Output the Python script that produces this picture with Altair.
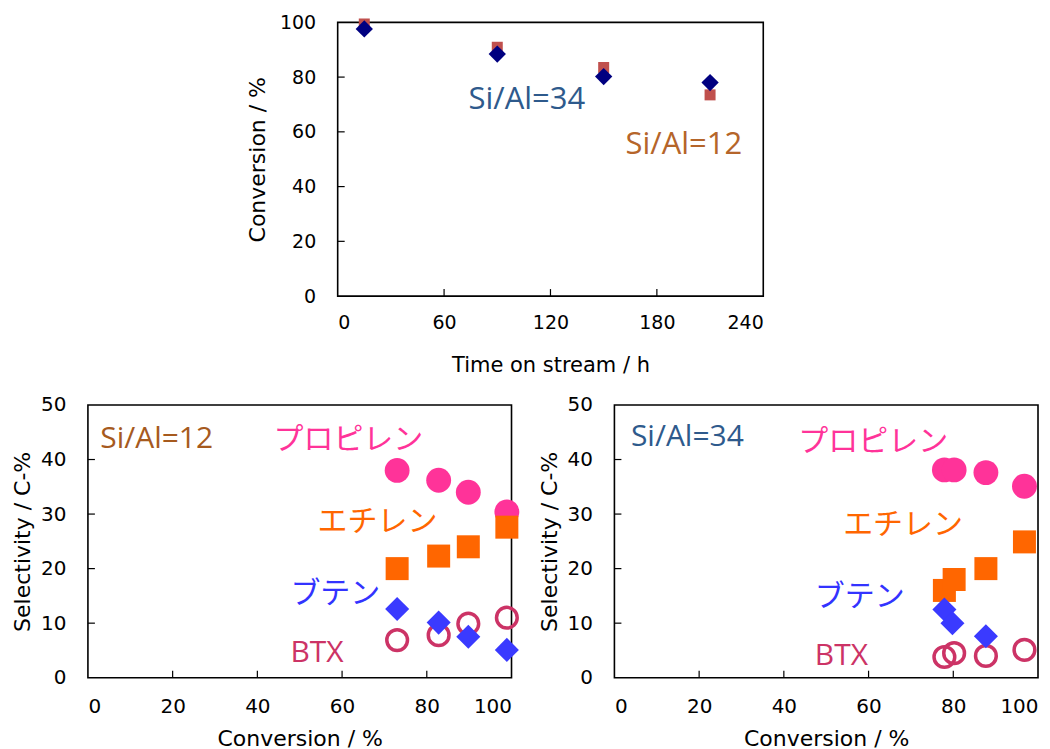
import altair as alt
import pandas as pd

# ---------------- data ----------------
# top panel: conversion vs time on stream
top_time = [15, 90, 150, 210]
conv_si34 = [97.6, 88.4, 80.2, 78.0]
conv_si12 = [99.4, 90.9, 83.5, 73.5]

# bottom-left panel: Si/Al=12
conv12 = [73.0, 82.8, 89.8, 98.9]
prop12 = [38.0, 36.2, 34.0, 30.4]
eth12 = [20.0, 22.3, 24.0, 27.6]
but12 = [12.6, 10.1, 7.5, 5.1]
btx12 = [6.9, 7.8, 9.9, 11.0]

# bottom-right panel: Si/Al=34
conv34 = [77.9, 80.2, 87.7, 96.8]
prop34 = [38.1, 38.1, 37.6, 35.1]
eth34 = [16.0, 18.0, 20.0, 24.9]
conv34_but = [77.9, 79.8, 87.7]
but34 = [12.5, 10.0, 7.6]
btx34 = [3.8, 4.5, 4.0, 5.1]

# tick values
top_xticks = [0, 60, 120, 180, 240]
top_yticks = [0, 20, 40, 60, 80, 100]
bot_xticks = [0, 20, 40, 60, 80, 100]
bot_yticks = [0, 10, 20, 30, 40, 50]

# annotation texts
top_labels = ["Si/Al=34", "Si/Al=12"]
top_label_x = [73.8, 162.3]
top_label_y = [68.2, 51.8]
top_label_col = ["#2E5A8C", "#B5652A"]

species = ["プロピレン", "エチレン", "ブテン"]
species_col = ["#FF3399", "#FF6600", "#3333FF"]
bl_sp_x = [43.8, 54.2, 47.8]
bl_sp_y = [43.5, 28.5, 15.4]
br_sp_x = [43.4, 54.0, 47.3]
br_sp_y = [43.3, 28.0, 14.8]

latin_l_text = ["Si/Al=12", "BTX"]
latin_l_col = ["#A65A1E", "#CC3366"]
latin_l_x = [2.9, 47.8]
latin_l_y = [42.1, 2.9]
latin_r_text = ["Si/Al=34", "BTX"]
latin_r_col = ["#2E5A8C", "#CC3366"]
latin_r_x = [3.9, 47.3]
latin_r_y = [42.4, 2.4]

# ---------------- style ----------------
AX_FONT = "DejaVu Sans"
JP_FONT = "Noto Sans CJK JP"
LAT_FONT = "Open Sans"
W, H = 424, 273
TW, TH = 426, 274
TICK = 7


def frame(w, h):
    return alt.Chart(pd.DataFrame({"a": [0]})).mark_rect(
        fill="transparent", stroke="black", strokeWidth=1.6
    ).encode(x=alt.value(0), x2=alt.value(w), y=alt.value(0), y2=alt.value(h))


def ticks(xs, ys, xsc, ysc, h):
    tx = alt.Chart(pd.DataFrame({"x": xs})).mark_rule(color="black", strokeWidth=1.2).encode(
        x=alt.X("x:Q", scale=xsc), y=alt.value(h), y2=alt.value(h - TICK)
    )
    ty = alt.Chart(pd.DataFrame({"y": ys})).mark_rule(color="black", strokeWidth=1.2).encode(
        y=alt.Y("y:Q", scale=ysc), x=alt.value(0), x2=alt.value(TICK)
    )
    return [tx, ty]


def txt(texts, xs, ys, cols, xsc, ysc, font, size, baseline):
    df = pd.DataFrame({"t": texts, "x": xs, "y": ys, "c": cols})
    return alt.Chart(df).mark_text(
        align="left", baseline=baseline, font=font, fontSize=size
    ).encode(
        x=alt.X("x:Q", scale=xsc),
        y=alt.Y("y:Q", scale=ysc),
        text="t:N",
        color=alt.Color("c:N", scale=None),
    )


def pts(xs, ys, xsc, ysc, shape, size, color, filled=True, sw=0):
    df = pd.DataFrame({"x": xs, "y": ys})
    if filled:
        m = alt.Chart(df).mark_point(shape=shape, size=size, filled=True, color=color, opacity=1)
    else:
        m = alt.Chart(df).mark_point(shape=shape, size=size, filled=False, color=color,
                                     strokeWidth=sw, opacity=1)
    return m.encode(x=alt.X("x:Q", scale=xsc), y=alt.Y("y:Q", scale=ysc))


# ---------------- top panel ----------------
txs = alt.Scale(domain=[0, 240], nice=False, zero=False)
tys = alt.Scale(domain=[0, 100], nice=False, zero=False)

top_axis_layer = alt.Chart(pd.DataFrame({"x": top_time, "y": conv_si12})).mark_point(
    shape="square", size=121, filled=True, color="#C0504D", opacity=1
).encode(
    x=alt.X("x:Q", scale=txs, axis=alt.Axis(values=top_xticks, title="Time on stream / h",
                                             labelPadding=17, titlePadding=22, labelFontSize=19,
                                             titleFontSize=21)),
    y=alt.Y("y:Q", scale=tys, axis=alt.Axis(values=top_yticks, title="Conversion / %",
                                             labelPadding=22, titlePadding=10, labelFontSize=19,
                                             titleFontSize=22)),
)

top = alt.layer(
    frame(TW, TH),
    top_axis_layer,
    *ticks(top_xticks[1:-1], top_yticks[1:-1], txs, tys, TH),
    pts(top_time, conv_si34, txs, tys, "diamond", 300, "#000080"),
    txt(top_labels, top_label_x, top_label_y, top_label_col, txs, tys, LAT_FONT, 31, "alphabetic"),
).properties(width=TW, height=TH)

spacer = alt.Chart(pd.DataFrame({"a": [0]})).mark_point(opacity=0).encode(
    x=alt.value(0), y=alt.value(0)
).properties(width=158, height=10)


# ---------------- bottom panels ----------------
def bottom(conv, prop, eth, conv_b, but, btx, sp_x, sp_y, lt, lx, ly, lc):
    xs = alt.Scale(domain=[0, 100], nice=False, zero=False)
    ys = alt.Scale(domain=[0, 50], nice=False, zero=False)
    axis_layer = alt.Chart(pd.DataFrame({"x": conv, "y": prop})).mark_point(
        shape="circle", size=620, filled=True, color="#FF3399", opacity=1
    ).encode(
        x=alt.X("x:Q", scale=xs, axis=alt.Axis(values=bot_xticks, title="Conversion / %",
                                                labelPadding=19, titlePadding=12, labelFontSize=20,
                                                titleFontSize=22)),
        y=alt.Y("y:Q", scale=ys, axis=alt.Axis(values=bot_yticks, title="Selectivity / C-%",
                                                labelPadding=22, titlePadding=6, labelFontSize=20,
                                                titleFontSize=22)),
    )
    return alt.layer(
        frame(W, H),
        axis_layer,
        *ticks(bot_xticks[1:-1], bot_yticks[1:-1], xs, ys, H),
        pts(conv, btx, xs, ys, "circle", 430, "#CC3366", filled=False, sw=3.5),
        pts(conv, eth, xs, ys, "square", 530, "#FF6600"),
        pts(conv_b, but, xs, ys, "diamond", 580, "#3A3AFF"),
        txt(species, sp_x, sp_y, species_col, xs, ys, JP_FONT, 30, "middle"),
        txt(lt, lx, ly, lc, xs, ys, LAT_FONT, 30, "alphabetic"),
    ).properties(width=W, height=H)


bl = bottom(conv12, prop12, eth12, conv12, but12, btx12, bl_sp_x, bl_sp_y,
            latin_l_text, latin_l_x, latin_l_y, latin_l_col)
br = bottom(conv34, prop34, eth34, conv34_but, but34, btx34, br_sp_x, br_sp_y,
            latin_r_text, latin_r_x, latin_r_y, latin_r_col)

top_row = alt.hconcat(spacer, top, spacing=0)
bottom_row = alt.hconcat(bl, br, spacing=13)

chart = alt.vconcat(top_row, bottom_row, spacing=20).properties(
    padding={"left": 3, "top": 5, "right": 0, "bottom": 0},
    background="white",
).configure_view(strokeWidth=0, stroke="transparent").configure_axis(
    domain=False, ticks=False, grid=False, labelFont=AX_FONT, titleFont=AX_FONT,
    labelColor="black", titleColor="black", titleFontWeight="normal"
)

chart.save("out.html", embed_options={"renderer": "svg", "actions": False})
